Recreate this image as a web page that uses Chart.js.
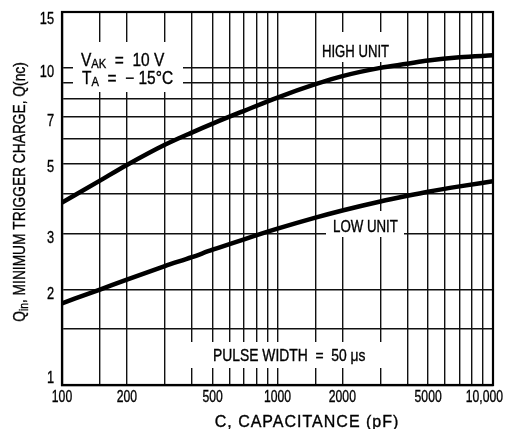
<!DOCTYPE html>
<html><head><meta charset="utf-8">
<script src="https://cdn.jsdelivr.net/npm/chart.js@4"></script>
<style>html,body{margin:0;padding:0;background:#fff;overflow:hidden}</style>
</head><body>
<canvas id="c" width="510" height="429" style="display:block;width:510px;height:429px"></canvas>
<script>
// ---- data ----
const capacitance = [100,150,200,300,400,500,700,1000,1500,2000,3000,4000,5000,7000,10000];
const highUnit    = [3.76,4.41,4.94,5.72,6.25,6.67,7.32,8.06,8.88,9.42,10.0,10.3,10.55,10.8,10.95];
const lowUnit     = [1.81,2.0,2.15,2.37,2.53,2.67,2.88,3.11,3.37,3.55,3.79,3.95,4.07,4.23,4.39];
const xGrid = [100,150,200,300,400,500,600,700,800,900,1000,1500,2000,3000,4000,5000,6000,7000,8000,9000,10000];
const xTickLabels = {100:'100',200:'200',500:'500',1000:'1000',2000:'2000',5000:'5000',10000:'10,000'};
const yGrid = [1,1.5,2,3,4,5,6,7,8,9,10,15];
const yTickLabels = {1:'1',2:'2',3:'3',5:'5',7:'7',10:'10',15:'15'};

const FONT = "'Liberation Sans',Arial,sans-serif";

// white masks behind annotations [x0,y0,x1,y1]
const masks = [[73,42,183,92],[318,32,395,62],[326,211,404,237],[186,342,400,368]];

// draw text made of parts (optionally subscripted), condensed horizontally by sx
function drawRich(ctx, parts, x, y, size, sx, align, subOff){
  ctx.save();
  ctx.translate(x, y);
  ctx.scale(sx, 1);
  let w = 0;
  parts.forEach(p=>{ ctx.font = (p.sub? Math.round(size*0.72): size)+'px '+FONT; p.w = ctx.measureText(p.t).width; w += p.w; });
  let cx = align==='center' ? -w/2 : (align==='right' ? -w : 0);
  ctx.textAlign = 'left'; ctx.textBaseline = 'alphabetic';
  ctx.lineWidth = 0.35; ctx.strokeStyle = '#000';
  parts.forEach(p=>{
    ctx.font = (p.sub? Math.round(size*0.72): size)+'px '+FONT;
    const yy = p.sub ? size*(subOff||0.12) : 0;
    ctx.fillText(p.t, cx, yy);
    ctx.strokeText(p.t, cx, yy);
    cx += p.w;
  });
  ctx.restore();
}

const annot = {
  id:'annot',
  beforeDatasetsDraw(chart){
    const ctx = chart.ctx, a = chart.chartArea, xs = chart.scales.x, ys = chart.scales.y;
    ctx.save();
    ctx.fillStyle = '#fff';
    masks.forEach(m=>ctx.fillRect(m[0],m[1],m[2]-m[0],m[3]-m[1]));
    ctx.strokeStyle = '#000'; ctx.lineWidth = 2.2;
    ctx.strokeRect(a.left, a.top, a.right-a.left, a.bottom-a.top);
    ctx.fillStyle = '#000';
    drawRich(ctx,[{t:'V'},{t:'AK',sub:true},{t:'  =  10 V'}],81,66,18,0.86,'left');
    drawRich(ctx,[{t:'T'},{t:'A',sub:true},{t:'  =  \u2212 15\u00B0C'}],82,84,18,0.86,'left');
    drawRich(ctx,[{t:'HIGH UNIT'}],322,57,16,0.82,'left');
    drawRich(ctx,[{t:'LOW UNIT'}],333,232,16,0.83,'left');
    drawRich(ctx,[{t:'PULSE WIDTH  =  50 \u03BCs'}],213,361,16.5,0.84,'left');
    // x tick labels
    Object.keys(xTickLabels).forEach(k=>{
      const v = +k, px = xs.getPixelForValue(v);
      if (v === 10000) drawRich(ctx,[{t:xTickLabels[k]}],503,402,16,0.76,'right');
      else drawRich(ctx,[{t:xTickLabels[k]}],px,402,16,0.76,'center');
    });
    // y tick labels (end labels pulled inside like the reference)
    Object.keys(yTickLabels).forEach(k=>{
      const v = +k, py = ys.getPixelForValue(v);
      let base = py + 9;
      if (v === 1) base = py - 2;
      if (v === 15) base = py + 12;
      drawRich(ctx,[{t:yTickLabels[k]}],54,base,16,0.8,'right');
    });
    // x title
    ctx.letterSpacing = '1px';
    drawRich(ctx,[{t:'C, CAPACITANCE (pF)'}],307,427,16,1.0,'center');
    ctx.letterSpacing = '0px';
    // y title
    ctx.save();
    ctx.translate(25, 192);
    ctx.rotate(-Math.PI/2);
    drawRich(ctx,[{t:'Q'},{t:'in',sub:true},{t:', MINIMUM TRIGGER CHARGE, Q(nc)'}],0,0,16,0.86,'center',0.2);
    ctx.restore();
    ctx.restore();
  }
};

new Chart(document.getElementById('c'), {
  type:'line',
  data:{
    datasets:[
      {label:'HIGH UNIT', data: capacitance.map((c,i)=>({x:c,y:highUnit[i]})), borderColor:'#000', borderWidth:4.5, pointRadius:0, cubicInterpolationMode:'monotone', fill:false},
      {label:'LOW UNIT', data: capacitance.map((c,i)=>({x:c,y:lowUnit[i]})), borderColor:'#000', borderWidth:4.5, pointRadius:0, cubicInterpolationMode:'monotone', fill:false}
    ]
  },
  options:{
    responsive:false, animation:false, devicePixelRatio:1,
    layout:{padding:{top:12,right:17,left:0,bottom:0}},
    plugins:{legend:{display:false}, tooltip:{enabled:false}},
    scales:{
      x:{type:'logarithmic', min:100, max:10000,
         afterBuildTicks(s){ s.ticks = xGrid.map(v=>({value:v})); },
         afterFit(s){ s.height = 44; },
         ticks:{display:false},
         grid:{color:'#111', lineWidth:1.4, drawTicks:false, tickLength:0},
         border:{display:true, color:'#000', width:2.2}},
      y:{type:'logarithmic', min:1, max:15,
         afterBuildTicks(s){ s.ticks = yGrid.map(v=>({value:v})); },
         afterFit(s){ s.width = 62; },
         ticks:{display:false},
         grid:{color:'#111', lineWidth:1.4, drawTicks:false, tickLength:0},
         border:{display:true, color:'#000', width:2.2}}
    }
  },
  plugins:[annot]
});
</script>
</body></html>
